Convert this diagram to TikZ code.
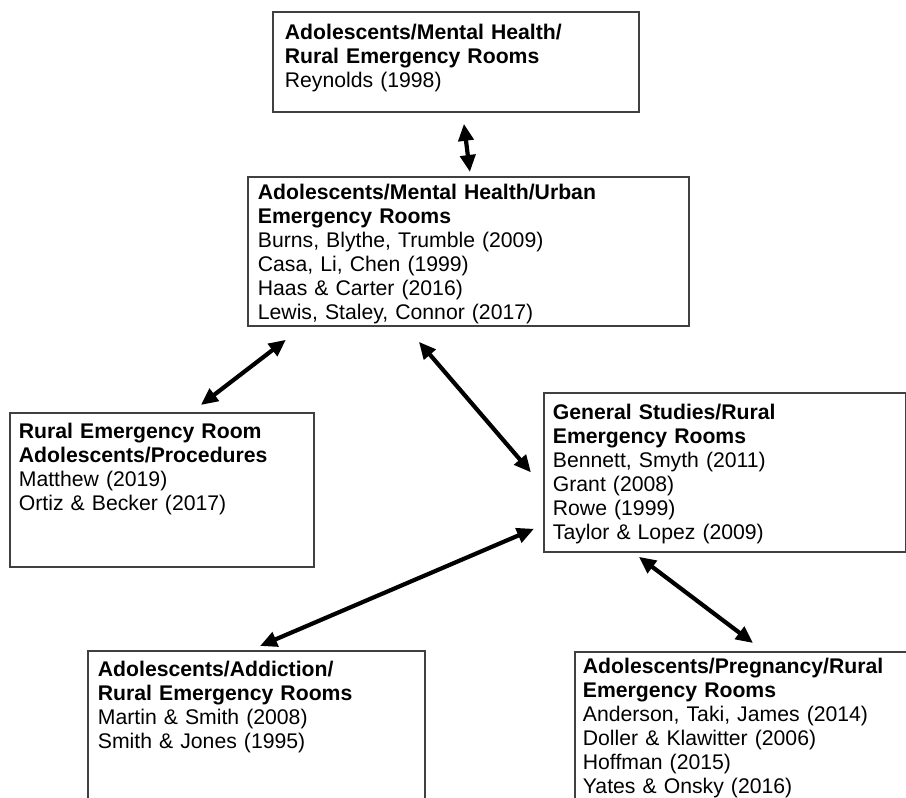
\documentclass[tikz,border=0pt]{standalone}
\usepackage{fontspec}
\setmainfont{Liberation Sans}
\usepackage{tikz}
\usetikzlibrary{positioning, arrows.meta}
\tikzset{
    block/.style={
        draw = black!75, line width = 1.8pt,
        anchor = north west,
        align = left,
        inner ysep = 0pt,
        font = \fontsize{21.2}{24}\selectfont
    },
    link/.style = {{Triangle[length=17pt,width=15pt]}-{Triangle[length=17pt,width=15pt]}, line width=4.2pt}
}

\begin{document}
\begin{tikzpicture}[x=1pt, y=-1pt]
    \path[use as bounding box, clip] (0,0) rectangle (906,798);

    % Blocks
    \node[block, inner xsep=12pt, text width=342pt, text height=28pt, text depth=72pt] (ruralmh) at (272,11)
        {\textbf{Adolescents/Mental Health/}\\\textbf{Rural Emergency Rooms}\\Reynolds (1998)};
    \node[block, inner xsep=10pt, text width=421pt, text height=23pt, text depth=126pt] (urbanmh) at (247,176)
        {\textbf{Adolescents/Mental Health/Urban}\\\textbf{Emergency Rooms}\\Burns, Blythe, Trumble (2009)\\Casa, Li, Chen (1999)\\Haas \& Carter (2016)\\Lewis, Staley, Connor (2017)};
    \node[block, inner xsep=9pt, text width=286pt, text height=26pt, text depth=128pt] (procedures) at (9,412)
        {\textbf{Rural Emergency Room}\\\textbf{Adolescents/Procedures}\\Matthew (2019)\\Ortiz \& Becker (2017)};
    \node[block, inner xsep=9pt, text width=344pt, text height=27pt, text depth=132pt] (general) at (543,392)
        {\textbf{General Studies/Rural}\\\textbf{Emergency Rooms}\\Bennett, Smyth (2011)\\Grant (2008)\\Rowe (1999)\\Taylor \& Lopez (2009)};
    \node[block, inner xsep=10pt, text width=317pt, text height=26pt, text depth=174pt] (addiction) at (87,650)
        {\textbf{Adolescents/Addiction/}\\\textbf{Rural Emergency Rooms}\\Martin \& Smith (2008)\\Smith \& Jones (1995)};
    \node[block, inner xsep=8pt, text width=400pt, text height=22pt, text depth=178pt] (pregnancy) at (574,651)
        {\textbf{Adolescents/Pregnancy/Rural}\\\textbf{Emergency Rooms}\\Anderson, Taki, James (2014)\\Doller \& Klawitter (2006)\\Hoffman (2015)\\Yates \& Onsky (2016)};

    % Lines
    \draw[link] ([xshift=8pt,yshift=-11pt]ruralmh.south) -- ([xshift=1.5pt,yshift=4pt]urbanmh.north);
    \draw[link] ([xshift=-182.5pt,yshift=-13pt]urbanmh.south) -- ([xshift=39pt,yshift=7pt]procedures.north);
    \draw[link] ([xshift=-49.5pt,yshift=-15pt]urbanmh.south) -- ([xshift=-12pt]general.west);
    \draw[link] ([xshift=-9pt,yshift=24pt]general.south west) -- ([xshift=173pt,yshift=4pt]addiction.north west);
    \draw[link] ([xshift=-86pt,yshift=-4pt]general.south) -- ([xshift=179pt,yshift=8pt]pregnancy.north west);

\end{tikzpicture}
\end{document}
